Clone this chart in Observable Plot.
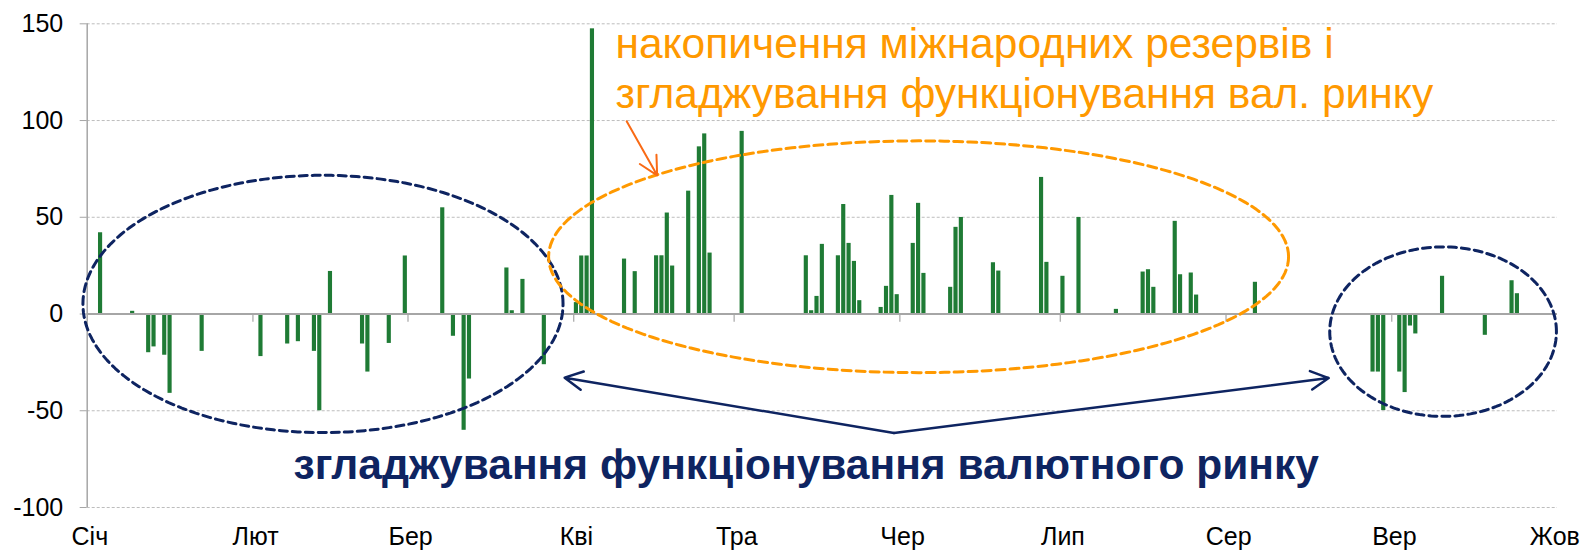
<!DOCTYPE html>
<html>
<head>
<meta charset="utf-8">
<script src="https://cdn.jsdelivr.net/npm/d3@7"></script>
<script src="https://cdn.jsdelivr.net/npm/@observablehq/plot@0.6"></script>
<style>
  html, body { margin: 0; padding: 0; background: #fff; overflow: hidden; }
  #chart svg { display: block; }
</style>
</head>
<body>
<div id="chart"></div>
<script>
// ---- data: day index from 1 January (leap year), daily net value ----
const days = [2, 8, 11, 12, 14, 15, 21, 32, 37, 39, 42, 43, 45, 51, 52, 56, 59,
  66, 68, 70, 71, 78, 79, 81, 85, 91, 92, 93, 94, 100, 102, 106, 107, 108, 109,
  112, 114, 115, 116, 122, 134, 135, 136, 137, 140, 141, 142, 143, 144, 148, 149,
  150, 151, 154, 155, 156, 161, 162, 163, 169, 170, 178, 179, 182, 185, 192, 197,
  198, 199, 203, 204, 206, 207, 218, 240, 241, 242, 245, 246, 247, 248, 253, 261,
  266, 267];
const values = [42.0, 1.4, -20.0, -17.0, -21.3, -41.0, -19.3, -22.0, -15.5, -14.3, -19.3, -50.0, 22.0, -15.5, -30.0, -15.2, 30.0,
  54.9, -11.5, -60.1, -33.6, 23.8, 1.7, 17.9, -26.2, 5.9, 30.0, 30.0, 147.4, 28.4, 21.9, 30.1, 30.1, 52.2, 24.8,
  63.5, 86.4, 93.1, 31.5, 94.4, 30.1, 1.7, 9.1, 36.0, 30.1, 56.6, 36.5, 27.2, 6.9, 3.4, 14.3,
  61.3, 10.0, 36.5, 57.2, 21.0, 13.8, 44.8, 49.9, 26.5, 22.2, 70.6, 26.7, 19.5, 49.9, 2.4, 21.7,
  22.9, 13.8, 47.9, 20.3, 21.2, 9.8, 16.4, -30.0, -30.0, -49.9, -30.0, -40.6, -6.2, -10.3, 19.5, -11.0,
  17.2, 10.5];
const monthStarts = [0, 31, 60, 91, 121, 152, 182, 213, 244, 274];
const monthLabels = ["Січ", "Лют", "Бер", "Кві", "Тра", "Чер", "Лип", "Сер", "Вер", "Жов"];
const yTicks = [-100, -50, 0, 50, 100, 150];
const dayCount = 275;

const orangeNote = "накопичення міжнародних резервів і\nзгладжування функціонування вал. ринку";
const navyNote = "згладжування функціонування валютного ринку";

// ---- annotation geometry (in data units) ----
const ellipses = [
  {cx: 44.1, cy: 5.2, rx: 44.9, ry: 66.5, color: "#0e2461", dash: "8,5"},
  {cx: 155.5, cy: 29.6, rx: 69.2, ry: 59.9, color: "#ff9900", dash: "9,5"},
  {cx: 253.6, cy: -9.1, rx: 21.2, ry: 43.8, color: "#0e2461", dash: "8,5"}
];
const navyArrows = [
  {x1: 150.9, y1: -61.5, x2: 89.3, y2: -32.9},
  {x1: 150.9, y1: -61.5, x2: 232.2, y2: -33.1}
];
const orangeArrow = [{x1: 100.9, y1: 99.6, x2: 106.6, y2: 71.7}];

// ---- build tables ----
const bars = days.map((d, i) => ({day: d, value: values[i]}));
const ellipsePts = ellipses.flatMap((e, k) =>
  d3.range(0, 361, 2).map(a => ({
    k, color: e.color,
    x: e.cx + e.rx * Math.cos(a * Math.PI / 180),
    y: e.cy + e.ry * Math.sin(a * Math.PI / 180)
  })));

const navy = "#0e2461";
const green = "#1f7b35";

const chart = Plot.plot({
  width: 1584,
  height: 551,
  marginLeft: 86.7,
  marginRight: 27,
  marginTop: 23.3,
  marginBottom: 44,
  style: {fontFamily: "'Liberation Sans', Arial, sans-serif", background: "#fff", color: "#000"},
  x: {type: "linear", domain: [0, dayCount]},
  y: {domain: [-100, 150]},
  marks: [
    Plot.gridY(yTicks.filter(t => t !== 0), {stroke: "#bdbdbd", strokeOpacity: 1, strokeWidth: 1, strokeDasharray: "3,2"}),
    Plot.rect(bars, {x1: "day", x2: d => d.day + 1, y1: 0, y2: "value", fill: green, insetLeft: 0.6, insetRight: 0.6}),
    Plot.ruleY([0], {stroke: "#a6a6a6", strokeWidth: 2}),
    Plot.ruleX(monthStarts.slice(1, -1), {y1: 0, y2: -4.2, stroke: "#a6a6a6", strokeWidth: 1.2}),
    Plot.ruleX([0], {stroke: "#a6a6a6", strokeWidth: 1.5}),
    Plot.axisY({ticks: yTicks, tickSize: 7, tickPadding: 17, fontSize: 25, stroke: "#a6a6a6", label: null, tickFormat: d => String(d)}),
    Plot.axisX({ticks: monthStarts.map(d => d + 0.5), tickSize: 0, tickPadding: 20, fontSize: 25, label: null,
      tickFormat: d => monthLabels[monthStarts.indexOf(d - 0.5)]}),
    Plot.line(ellipsePts, {x: "x", y: "y", z: "k", stroke: "color", strokeWidth: 3, curve: "linear"}),
    Plot.arrow(navyArrows, {x1: "x1", y1: "y1", x2: "x2", y2: "y2", stroke: navy, strokeWidth: 2.5, headLength: 12, headAngle: 55}),
    Plot.arrow(orangeArrow, {x1: "x1", y1: "y1", x2: "x2", y2: "y2", stroke: "#f96a15", strokeWidth: 2, headLength: 16, headAngle: 55}),
    Plot.text([{x: 98.8, y: 106.7, t: orangeNote}], {x: "x", y: "y", text: "t", textAnchor: "start", lineAnchor: "bottom", lineHeight: 1.17,
      fontSize: 42.5, fill: "#ff9900", ariaLabel: "orange note"}),
    Plot.text([{x: 38.6, y: -85.1, t: navyNote}], {x: "x", y: "y", text: "t", textAnchor: "start", lineAnchor: "bottom",
      fontSize: 42.5, fontWeight: "bold", fill: navy, ariaLabel: "navy note"})
  ]
});

// dashed ellipses: one dash pattern per ellipse path
d3.select(chart).selectAll('g[aria-label="line"] path').each(function(_, i) {
  if (ellipses[i]) d3.select(this).attr("stroke-dasharray", ellipses[i].dash);
});
d3.select(chart).selectAll('g[aria-label="orange note"] text').style("word-spacing", "10px");
d3.select(chart).selectAll('g[aria-label="navy note"] text').style("word-spacing", "-1px");

document.getElementById("chart").appendChild(chart);
</script>
</body>
</html>
